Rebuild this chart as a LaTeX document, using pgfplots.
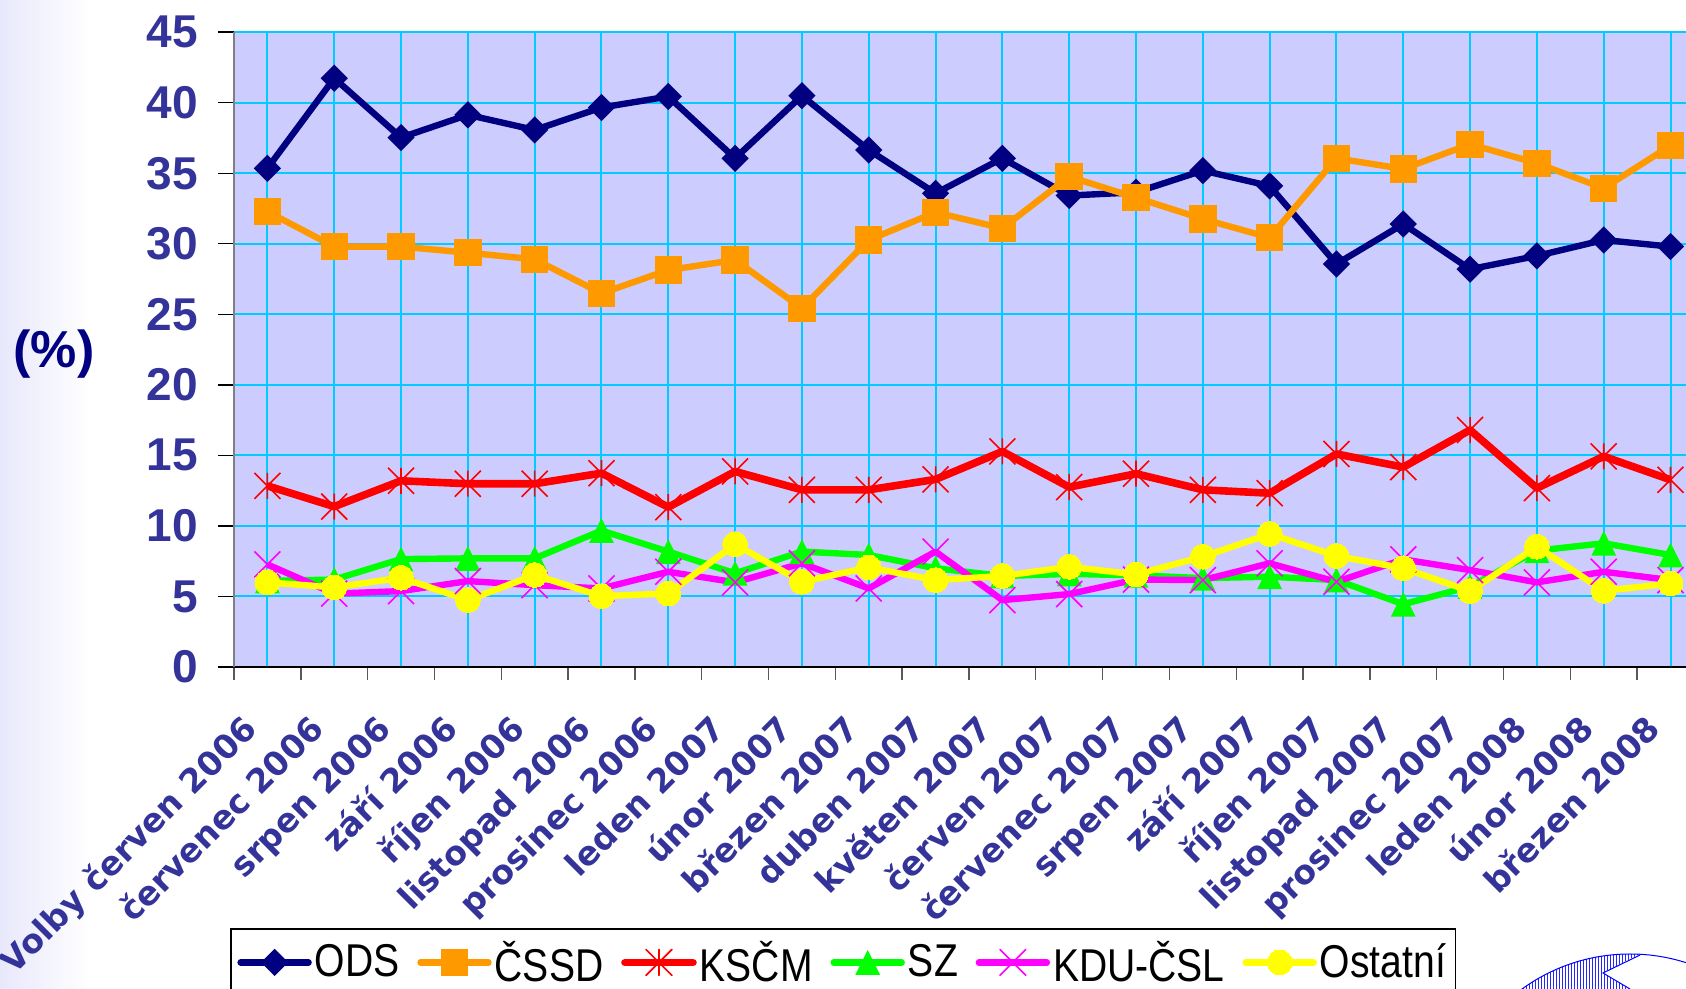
\documentclass[border=0pt]{standalone}
\usepackage{pgfplots}
\pgfplotsset{compat=1.18}
\usepackage{pgfplotstable}
\usepackage{fontspec}
\setmainfont{Liberation Sans}
\newfontfamily\dvs{DejaVu Sans}
\newfontfamily\legfont[FakeStretch=0.85]{Liberation Sans}
\definecolor{tickblue}{RGB}{51,51,153}
\definecolor{navyc}{RGB}{0,0,128}
\definecolor{ods}{RGB}{0,0,128}
\definecolor{cssd}{RGB}{255,153,0}
\definecolor{kscm}{RGB}{255,0,0}
\definecolor{sz}{RGB}{0,255,0}
\definecolor{kdu}{RGB}{255,0,255}
\definecolor{ost}{RGB}{255,255,0}
\definecolor{plotbg}{RGB}{204,204,255}
\definecolor{gridc}{RGB}{0,204,255}

\pgfdeclareplotmark{xstar}{%
 \pgfpathmoveto{\pgfqpoint{0pt}{-\pgfplotmarksize}}\pgfpathlineto{\pgfqpoint{0pt}{\pgfplotmarksize}}%
 \pgfpathmoveto{\pgfqpoint{-\pgfplotmarksize}{-\pgfplotmarksize}}\pgfpathlineto{\pgfqpoint{\pgfplotmarksize}{\pgfplotmarksize}}%
 \pgfpathmoveto{\pgfqpoint{-\pgfplotmarksize}{\pgfplotmarksize}}\pgfpathlineto{\pgfqpoint{\pgfplotmarksize}{-\pgfplotmarksize}}%
 \pgfusepathqstroke}
\pgfdeclareplotmark{xcross}{%
 \pgfpathmoveto{\pgfqpoint{-\pgfplotmarksize}{-\pgfplotmarksize}}\pgfpathlineto{\pgfqpoint{\pgfplotmarksize}{\pgfplotmarksize}}%
 \pgfpathmoveto{\pgfqpoint{-\pgfplotmarksize}{\pgfplotmarksize}}\pgfpathlineto{\pgfqpoint{\pgfplotmarksize}{-\pgfplotmarksize}}%
 \pgfusepathqstroke}
\pgfdeclareplotmark{ediamond}{%
 \pgfpathmoveto{\pgfqpoint{0pt}{\pgfplotmarksize}}\pgfpathlineto{\pgfqpoint{\pgfplotmarksize}{0pt}}%
 \pgfpathlineto{\pgfqpoint{0pt}{-\pgfplotmarksize}}\pgfpathlineto{\pgfqpoint{-\pgfplotmarksize}{0pt}}\pgfpathclose
 \pgfusepathqfill}
\pgfdeclareplotmark{etri}{%
 \pgfpathmoveto{\pgfqpoint{0pt}{\pgfplotmarksize}}\pgfpathlineto{\pgfqpoint{\pgfplotmarksize}{-\pgfplotmarksize}}%
 \pgfpathlineto{\pgfqpoint{-\pgfplotmarksize}{-\pgfplotmarksize}}\pgfpathclose
 \pgfusepathqfill}

\pgfplotstableread{
x ods cssd kscm sz kdu ost
0  35.35 32.28 12.84 6.10 7.27 6.00
1  41.74 29.80 11.37 6.20 5.20 5.64
2  37.53 29.80 13.20 7.65 5.38 6.33
3  39.14 29.37 12.99 7.70 6.09 4.74
4  38.07 28.90 12.99 7.70 5.80 6.52
5  39.66 26.49 13.74 9.67 5.57 5.02
6  40.44 28.14 11.33 8.18 6.75 5.21
7  36.06 28.85 13.86 6.64 6.00 8.70
8  40.50 25.43 12.56 8.18 7.35 6.04
9  36.65 30.27 12.56 7.94 5.57 7.06
10 33.58 32.23 13.30 7.00 8.18 6.16
11 36.06 31.10 15.28 6.45 4.74 6.45
12 33.42 34.76 12.75 6.60 5.17 7.10
13 33.65 33.27 13.70 6.50 6.20 6.56
14 35.19 31.76 12.56 6.30 6.16 7.82
15 34.10 30.44 12.32 6.40 7.35 9.43
16 28.57 36.06 15.10 6.16 6.04 7.87
17 31.40 35.31 14.17 4.45 7.63 7.00
18 28.20 37.06 16.80 5.70 6.87 5.38
19 29.14 35.71 12.68 8.25 6.00 8.53
20 30.27 33.94 14.93 8.77 6.75 5.40
21 29.80 36.96 13.27 7.94 6.16 5.92
}\datatable

\begin{document}
\begin{tikzpicture}
\path[use as bounding box] (0,0) rectangle (843pt,494.5pt);
\shade[left color={rgb,255:red,232;green,232;blue,252}, right color=white] (0,0) rectangle (45pt,494.5pt);
\begin{axis}[
 at={(117pt,161pt)}, anchor=south west,
 scale only axis, width=725.9pt, height=317.4pt,
 xmin=-0.5, xmax=21.229, ymin=0, ymax=45,
 axis x line*=bottom, axis y line*=left,
 axis line style={line width=0.7pt, black, -},
 y axis line style={draw=gray},
 axis background/.style={fill=plotbg},
 xtick={0,...,21},
 xticklabels={Volby červen 2006, červenec 2006, srpen 2006, září 2006, říjen 2006, listopad 2006, prosinec 2006, leden 2007, únor 2007, březen 2007, duben 2007, květen 2007, červen 2007, červenec 2007, srpen 2007, září 2007, říjen 2007, listopad 2007, prosinec 2007, leden 2008, únor 2008, březen 2008},
 minor xtick={-0.5,0.5,...,20.5},
 ytick={0,5,...,45},
 tick align=outside,
 major tick length=8pt, minor tick length=6.7pt,
 major x tick style={draw=none},
 minor x tick style={draw=gray!70!black, line width=0.7pt},
 major y tick style={draw=black, line width=0.7pt},
 xmajorgrids, ymajorgrids,
 major grid style={draw=gridc, line width=1pt},
 /pgf/number format/assume math mode=true,
 yticklabel style={font=\bfseries\fontsize{23}{23}\selectfont, text=tickblue, anchor=east, inner sep=0pt, xshift=-10pt},
 xticklabel style={font=\dvs\bfseries\fontsize{16.6}{18}\selectfont, text=tickblue, inner sep=0pt, xshift=-4pt, yshift=-24pt, rotate=45, anchor=base east},
 every axis plot/.append style={line join=round},
 legend image code/.code={\draw[mark repeat=2,mark phase=2,line cap=round] plot coordinates {(0pt,0pt) (17pt,0pt) (34pt,0pt)};},
 legend style={at={(-0.00276,-0.4112)}, anchor=north west, draw=black, line width=0.8pt, fill=white,
   inner xsep=3.3pt, inner ysep=4pt, font=\legfont\fontsize{23}{26}\selectfont, text=black,
   nodes={inner xsep=1.5pt},
   /tikz/every even column/.append style={column sep=7.4pt}},
 legend columns=-1,
 legend cell align=left,
]
\addplot[color=ods, line width=3.2pt, mark=ediamond, mark size=6.8pt, mark options={fill=ods}] table[x=x,y=ods]{\datatable};
\addlegendentry{ODS}
\addplot[color=cssd, line width=3.2pt, mark=square*, mark size=6.6pt, mark options={fill=cssd, draw=cssd, line width=0pt}] table[x=x,y=cssd]{\datatable};
\addlegendentry{ČSSD}
\addplot[color=kscm, line width=3.8pt, mark=xstar, mark size=6.5pt, mark options={line width=0.8pt}] table[x=x,y=kscm]{\datatable};
\addlegendentry{KSČM}
\addplot[color=sz, line width=3.2pt, mark=etri, mark size=6.2pt, mark options={fill=sz}] table[x=x,y=sz]{\datatable};
\addlegendentry{SZ}
\addplot[color=kdu, line width=3.2pt, mark=xcross, mark size=6.5pt, mark options={line width=0.8pt}] table[x=x,y=kdu]{\datatable};
\addlegendentry{KDU-ČSL}
\addplot[color=ost, line width=3.2pt, mark=*, mark size=6.2pt, mark options={fill=ost, draw=ost, line width=0pt}] table[x=x,y=ost]{\datatable};
\addlegendentry{Ostatní}
\end{axis}
\node[font=\bfseries\fontsize{26}{26}\selectfont, text=navyc, inner sep=0pt] at (27pt,317.5pt) {(\%)};
% logo fragment
\begin{scope}
\clip (815pt,-74.5pt) circle (92pt);
\clip (760pt,0pt) rectangle (821pt,20pt);
\foreach \x in {760,761.5,...,821} \draw[blue!85, line width=0.4pt] (\x pt,0pt) -- (\x pt,20pt);
\end{scope}
\fill[white] (820pt,17.5pt) -- (801.5pt,8pt) -- (815pt,0pt) -- (830pt,0pt) -- (830pt,17.5pt) -- cycle;
\draw[blue, line width=0.5pt] (815pt,-74.5pt) circle (92pt);
\draw[blue, line width=0.5pt] (820pt,17pt) -- (801.5pt,8pt) -- (815pt,0pt);
\end{tikzpicture}
\end{document}
